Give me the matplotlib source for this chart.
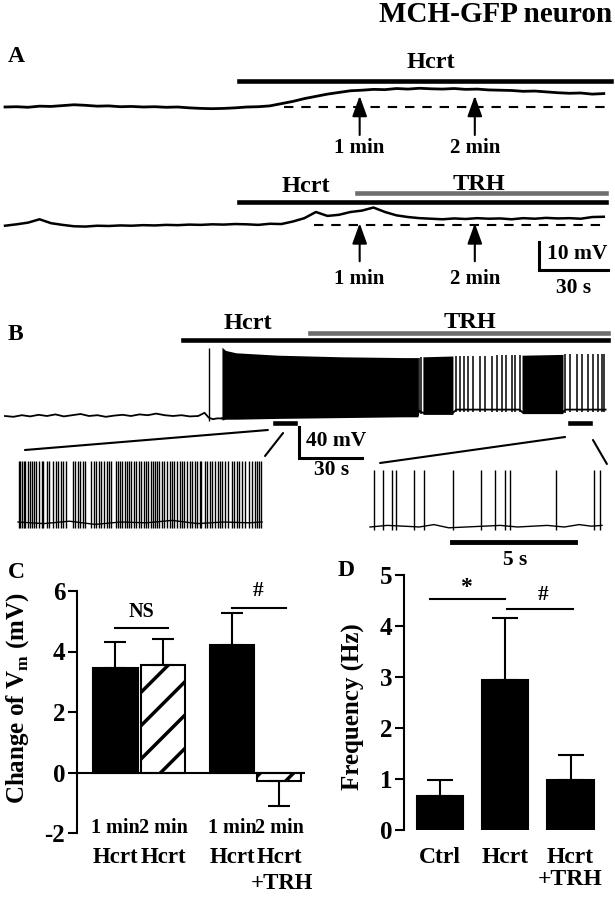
import numpy as np
import matplotlib
matplotlib.use('Agg')
import matplotlib.pyplot as plt
from matplotlib.patches import ConnectionPatch

plt.rcParams['font.family'] = 'Liberation Serif'
plt.rcParams['font.weight'] = 'bold'
plt.rcParams['mathtext.fontset'] = 'custom'
plt.rcParams['mathtext.rm'] = 'Liberation Serif:bold'
plt.rcParams['mathtext.bf'] = 'Liberation Serif:bold'
plt.rcParams['hatch.linewidth'] = 2.5
plt.rcParams['axes.unicode_minus'] = False

W, H = 615, 899
GREY = '#6e6e6e'

# ---------------- panel A : Vm (mV, relative to baseline) vs time (s)
a_t = [0, 5, 10, 15, 20, 25, 30, 35, 40, 45, 50, 55, 60, 65, 70, 75, 80, 85,
       90, 95, 100, 105, 110, 115, 120, 125, 130, 135, 140, 145, 150, 155,
       160, 165, 170, 175, 180, 185, 190, 195, 200, 205, 210, 215, 220, 225,
       230, 235, 240, 245, 250, 255, 260]
a1_v = [0.0, 0.1, -0.1, 0.3, 0.2, 0.5, 0.8, 0.6, 0.3, 0.4, 0.1, 0.2, 0.0,
        0.1, -0.1, 0.0, -0.3, -0.5, -0.6, -0.5, -0.3, 0.0, 0.1, 0.4, 1.2,
        2.0, 3.0, 3.8, 4.6, 5.2, 5.8, 6.0, 6.3, 6.2, 6.6, 6.4, 6.7, 6.5, 6.4,
        6.6, 6.3, 6.4, 6.1, 6.0, 5.9, 5.6, 5.7, 5.4, 5.1, 4.9, 5.0, 4.6, 4.8]
a2_v = [-0.3, 0.2, 0.8, 2.0, 0.6, 0.0, -0.5, -0.6, -0.3, -0.4, -0.2, -0.3,
        -0.1, -0.2, 0.0, -0.1, 0.1, 0.0, 0.2, 0.1, 0.3, 0.2, 0.0, 0.4, 0.3,
        1.2, 2.4, 4.6, 3.2, 3.6, 4.6, 5.1, 6.2, 4.6, 3.4, 2.8, 2.4, 2.2, 2.0,
        2.3, 2.1, 2.4, 2.2, 2.3, 2.0, 2.4, 2.2, 2.5, 2.3, 2.4, 2.2, 2.8, 2.9]
a_end = 261
a_hcrt_on = 101.7
a2_trh_on = 152.8
a_marks = [154, 204]          # "1 min", "2 min" arrows
a_mark_labels = ['1 min', '2 min']

# ---------------- panel B : spiking
b_pre_t = [0, 4, 8, 12, 16, 20, 24, 28, 32, 36, 40, 44, 48, 52, 56, 60, 64,
           68, 72, 76, 80, 84, 88, 92, 95, 97, 99, 101, 103.3]
b_pre_v = [0, -1, 1, -0.5, 1.5, 0, 2, -0.5, 1, 2.5, 0, 1, -1, 0.5, 1.5, 0, 2,
           1, 3, 1, 0, 1, -0.5, 0, 4, -2, -4, -3, -3]
b_single_spike = 97.1
b_burst_t = [103.3, 105, 110, 130, 160, 190, 196.7, 197, 199, 213.3, 215,
             245, 246.2, 265.7, 267, 286]
b_burst_top = [86, 82, 79, 76, 74, 73, 73, 73, 74, 75, 75, 76, 76, 77, 77, 77]
b_burst_bot = [-3, -2, -2, -1, 0, 1, 1, 7, 4, 4, 8, 8, 5, 5, 8, 8]
b_dense = [(103.3, 196.7), (199, 213.3), (246.2, 265.7)]
b_sparse_spikes = [197.1, 198.1, 214.8, 216.7, 218.6, 220.5, 222.9, 226.2,
                   228.6, 231.9, 234.3, 236.7, 238.6, 241.4, 242.9, 245.2,
                   266.7, 269.0, 272.4, 274.8, 277.6, 280.0, 282.4, 284.3,
                   285.2]
b_end = 286
b_hcrt_on = 84.8
b_trh_on = 145.2
b_win1 = (128.6, 138.1)
b_win2 = (269.0, 278.6)

# expanded windows (s)
ins1_spikes = [0.03, 0.09, 0.16, 0.22, 0.29, 0.39, 0.48, 0.56, 0.63, 0.72,
               0.83, 0.92, 0.98, 1.11, 1.22, 1.38, 1.48, 1.57, 1.68, 1.77,
               1.85, 2.14, 2.21, 2.32, 2.42, 2.53, 2.61, 2.84, 2.95, 3.05,
               3.16, 3.25, 3.34, 3.45, 3.54, 3.64, 3.81, 3.89, 3.97, 4.06,
               4.15, 4.23, 4.32, 4.41, 4.52, 4.61, 4.70, 4.79, 4.89, 4.98,
               5.07, 5.16, 5.24, 5.33, 5.41, 5.50, 5.59, 5.70, 5.79, 5.90,
               5.99, 6.09, 6.20, 6.29, 6.38, 6.48, 6.58, 6.68, 6.77, 6.88,
               6.98, 7.07, 7.14, 7.27, 7.36, 7.47, 7.56, 7.66, 7.77, 7.86,
               7.95, 8.06, 8.16, 8.32, 8.42, 8.52, 8.61, 8.71, 8.84, 9.00,
               9.10, 9.21, 9.30, 9.39, 9.47]
ins1_base_t = [0, 1, 2, 3, 4, 5, 6, 7, 8, 9, 9.5]
ins1_base_v = [0, -2, 1, -3, 0, -1, 2, -2, 0, -1, 0]
ins2_spikes = [0.16, 0.53, 0.89, 1.06, 1.79, 2.2, 3.37, 4.51, 5.08, 5.49,
               5.69, 7.56, 9.1, 9.35]
ins2_base_t = [0, 0.7, 1.4, 2.0, 2.6, 3.2, 3.9, 4.6, 5.3, 6.0, 6.6, 7.2, 7.9,
               8.5, 9.0, 9.43]
ins2_base_v = [0, 2, 1, 0, 3, -1, 0, 1, 2, 0, 1, 2, 0, 3, 1, 2]

# ---------------- panel C / D bar data
c_vals = [3.44, 3.54, 4.23, -0.29]
c_err = [0.89, 0.86, 1.03, 0.83]
c_hatch = [False, True, False, True]
c_lab1 = ['1 min', '2 min', '1 min', '2 min']
c_lab2 = ['Hcrt', 'Hcrt', 'Hcrt', 'Hcrt']
c_lab3 = ['', '', '', '+TRH']
d_vals = [0.67, 2.94, 0.98]
d_err = [0.32, 1.22, 0.49]
d_labels = ['Ctrl', 'Hcrt', 'Hcrt']
d_labels2 = ['', '', '+TRH']

fig = plt.figure(figsize=(W / 100, H / 100), dpi=100)


def px_axes(l, t, r, b):
    ax = fig.add_axes([l / W, 1 - b / H, (r - l) / W, (b - t) / H])
    ax.patch.set_visible(False)
    return ax


fig.text(612 / W, 1 - 15 / H, 'MCH-GFP neuron', ha='right', va='center',
         fontsize=21)
for lab, x, y in [('A', 8, 57), ('B', 8, 335), ('C', 8, 572), ('D', 338, 570)]:
    fig.text(x / W, 1 - y / H, lab, ha='left', va='center', fontsize=17)

# ---- A
ax = px_axes(0, 35, 615, 320)
ax.set_xlim(-5 / 2.303, 610 / 2.303)
ax.set_ylim((107 - 320) / 2.8, (107 - 35) / 2.8)
ax.axis('off')
off2 = -42.1
ax.plot(a_t, a1_v, color='k', lw=2.0)
ax.plot(a_t, np.array(a2_v) + off2, color='k', lw=1.8)
ax.plot([121, a_end], [0, 0], 'k--', lw=1.5, dashes=(4.5, 3.8))
ax.plot([134, a_end], [off2, off2], 'k--', lw=1.5, dashes=(4.5, 3.8))
ax.plot([a_hcrt_on, a_end + 2], [9.3, 9.3], color='k', lw=3.3)
ax.text(185, 15.9, 'Hcrt', ha='center', va='center', fontsize=17.5)
ax.plot([a_hcrt_on, a_end], [off2 + 8.2] * 2, color='k', lw=3.3)
ax.plot([a2_trh_on, a_end], [off2 + 11.4] * 2, color=GREY, lw=3.3)
ax.text(130.7, off2 + 13.8, 'Hcrt', ha='center', va='center', fontsize=17.5)
ax.text(205.6, off2 + 14.5, 'TRH', ha='center', va='center', fontsize=17.5)
aprops = dict(arrowstyle='-|>,head_length=1.25,head_width=0.45', color='k',
              lw=1.5, shrinkA=0, shrinkB=0)
for t, lab in zip(a_marks, a_mark_labels):
    ax.annotate('', xy=(t, 4.0), xytext=(t, -10.0), arrowprops=aprops)
    ax.text(t, -14.8, lab, ha='center', va='center', fontsize=15)
    ax.annotate('', xy=(t, off2 + 0.6), xytext=(t, off2 - 13.0),
                arrowprops=aprops)
    ax.text(t, off2 - 19.2, lab, ha='center', va='center', fontsize=15)
# scale bar 10 mV / 30 s
ax.plot([231.9, 231.9, 261.9], [-48.2, -58.2, -58.2], color='k', lw=2.2,
        solid_joinstyle='miter')
ax.text(235.5, -52.5, '10 mV', ha='left', va='center', fontsize=15.5)
ax.text(247, -64.6, '30 s', ha='center', va='center', fontsize=15.5)

# ---- B
axb = px_axes(0, 300, 615, 480)
axb.set_xlim(-5 / 2.1, 610 / 2.1)
axb.set_ylim((416 - 480) / 0.8, (416 - 300) / 0.8)
axb.axis('off')
axb.plot(b_pre_t, b_pre_v, color='k', lw=1.3)
axb.vlines([b_single_spike], -6, 85, color='k', lw=1.0)
axb.plot(b_burst_t, b_burst_bot, color='k', lw=1.3)
for t0, t1 in b_dense:
    seg = [t0] + [t for t in b_burst_t if t0 < t < t1] + [t1]
    axb.fill_between(seg, np.interp(seg, b_burst_t, b_burst_bot) - 2,
                     np.interp(seg, b_burst_t, b_burst_top), color='k', lw=0)
axb.vlines(b_sparse_spikes, np.interp(b_sparse_spikes, b_burst_t, b_burst_bot) - 3,
           np.interp(b_sparse_spikes, b_burst_t, b_burst_top), color='k', lw=1.1)
axb.plot([b_hcrt_on, b_end + 1], [95, 95], color='k', lw=3.3)
axb.plot([b_trh_on, b_end + 1], [103.75, 103.75], color=GREY, lw=3.3)
axb.text(115.7, 116, 'Hcrt', ha='center', va='center', fontsize=17.5)
axb.text(221.4, 117, 'TRH', ha='center', va='center', fontsize=17.5)
for w0, w1 in [b_win1, b_win2]:
    axb.plot([w0, w1], [-8.75, -8.75], color='k', lw=3.3)
axb.plot([140, 140, 170], [-13.5, -53, -53], color='k', lw=2.2,
         solid_joinstyle='miter')
axb.text(143.5, -31, '40 mV', ha='left', va='center', fontsize=15.5)
axb.text(155.7, -67.5, '30 s', ha='center', va='center', fontsize=15.5)

# ---- insets
ax1 = px_axes(15, 450, 268, 535)
ax1.set_xlim(-3 / 25.68, 250 / 25.68)
ax1.set_ylim(-16.25, 90)
ax1.axis('off')
ax1.plot(ins1_base_t, ins1_base_v, color='k', lw=1.0)
ax1.vlines(ins1_spikes, -8, 76, color='k', lw=1.0)

ax2 = px_axes(365, 450, 612, 565)
ax2.set_xlim(-5 / 24.6, 242 / 24.6)
ax2.set_ylim(-47.5, 96.25)
ax2.axis('off')
ax2.plot(ins2_base_t, ins2_base_v, color='k', lw=1.0)
ax2.vlines(ins2_spikes, -4, 71, color='k', lw=1.0)
ax2.plot([3.33, 8.33], [-18.75, -18.75], color='k', lw=3.5)
ax2.text(5.9, -41, '5 s', ha='center', va='center', fontsize=15.5)

for (xa, ya, axa, xb, yb) in [(0.27, 90, ax1, 125.2, -17.5),
                              (9.62, 82.5, ax1, 132.4, -21.25),
                              (0.41, 80, ax2, 266.7, -26.25),
                              (9.63, 78.75, ax2, 280.0, -30.0)]:
    con = ConnectionPatch(xyA=(xa, ya), coordsA=axa.transData,
                          xyB=(xb, yb), coordsB=axb.transData,
                          color='k', lw=1.5)
    fig.add_artist(con)

# ---- C
axc = px_axes(77, 591, 305, 833)
c_x = [0, 1.0, 2.44, 3.42]
for x, v, hat in zip(c_x, c_vals, c_hatch):
    if hat:
        axc.bar(x, v, 0.93, facecolor='white', edgecolor='k', hatch='/', lw=1.5)
    else:
        axc.bar(x, v, 0.93, color='k', edgecolor='k', lw=1.5)
lo = [e if v < 0 else 0 for v, e in zip(c_vals, c_err)]
hi = [e if v >= 0 else 0 for v, e in zip(c_vals, c_err)]
axc.errorbar(c_x, c_vals, yerr=[lo, hi], fmt='none', ecolor='k',
             elinewidth=1.5, capsize=8, capthick=1.5)
axc.axhline(0, color='k', lw=1.5)
axc.set_xlim(-0.8, 3.96)
axc.set_ylim(-2, 6)
axc.set_yticks([-2, 0, 2, 4, 6])
axc.set_xticks([])
for s in ['top', 'right', 'bottom']:
    axc.spines[s].set_visible(False)
axc.spines['left'].set_linewidth(1.5)
axc.tick_params(axis='y', length=6.5, width=1.5, pad=2, labelsize=18)
for x, l1, l2, l3 in zip(c_x, c_lab1, c_lab2, c_lab3):
    axc.text(x, -1.82, l1, ha='center', va='center', fontsize=14.5,
             clip_on=False)
    axc.text(x, -2.82, l2, ha='center', va='center', fontsize=16.5,
             clip_on=False)
    if l3:
        axc.text(x + 0.06, -3.68, l3, ha='center', va='center',
                 fontsize=16.5, clip_on=False)
axc.plot([0, 1.09], [4.79, 4.79], color='k', lw=1.5)
axc.text(0.55, 5.3, 'NS', ha='center', va='center', fontsize=14.5)
axc.plot([2.43, 3.56], [5.45, 5.45], color='k', lw=1.5)
axc.text(2.98, 6.0, '#', ha='center', va='center', fontsize=15.5)
fig.text(18 / W, 1 - 698 / H, 'Change of V$_\\mathbf{m}$ (mV)', rotation=90,
         ha='center', va='center', fontsize=18)

# ---- D
axd = px_axes(404, 575, 600, 830)
d_x = [0, 1, 2]
axd.bar(d_x, d_vals, 0.71, color='k', edgecolor='k', lw=1.5)
axd.errorbar(d_x, d_vals, yerr=[[0] * 3, d_err], fmt='none', ecolor='k',
             elinewidth=1.5, capsize=9.5, capthick=1.5)
axd.set_xlim(-0.55, 2.45)
axd.set_ylim(0, 5)
axd.set_yticks([0, 1, 2, 3, 4, 5])
axd.set_xticks([])
for s in ['top', 'right', 'bottom']:
    axd.spines[s].set_visible(False)
axd.spines['left'].set_linewidth(1.5)
axd.tick_params(axis='y', length=6.5, width=1.5, pad=2, labelsize=18)
for x, l1, l2 in zip(d_x, d_labels, d_labels2):
    axd.text(x, -0.53, l1, ha='center', va='center', fontsize=17,
             clip_on=False)
    if l2:
        axd.text(x, -0.98, l2, ha='center', va='center', fontsize=17,
                 clip_on=False)
axd.plot([-0.15, 1.0], [4.53, 4.53], color='k', lw=1.5)
axd.text(0.4, 4.75, '*', ha='center', va='center', fontsize=17)
axd.plot([1.03, 2.04], [4.33, 4.33], color='k', lw=1.5)
axd.text(1.58, 4.6, '#', ha='center', va='center', fontsize=15.5)
fig.text(353 / W, 1 - 707 / H, 'Frequency (Hz)', rotation=90,
         ha='center', va='center', fontsize=18)

fig.savefig('out.png', dpi=100)
